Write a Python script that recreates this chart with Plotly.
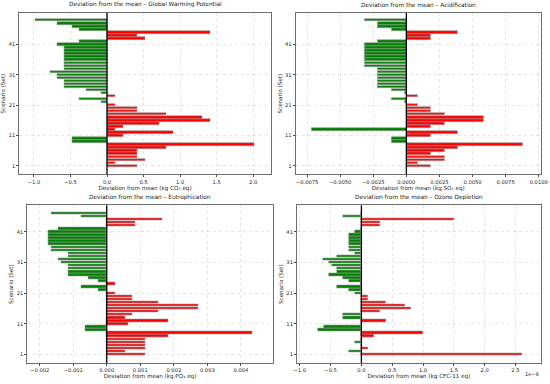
import plotly.graph_objects as go

# ---------------- data ----------------
scen_top = list(range(1, 50))   # GWP & Acidification (49 scenarios)
scen_bot = list(range(1, 48))   # Eutrophication & Ozone (47 scenarios)

gwp = [0.41, 0.12, 0.52, 0.41, 0.41, 0.41, 0.81, 2.01, -0.48, -0.48,
       0.22, 0.91, 0.12, 0.22, 0.71, 1.41, 1.31, 0.81, 0.41, 0.41,
       0.12, -0.08, -0.38, 0.12, -0.08, -0.29, -0.58, -0.58, -0.58, -0.68,
       -0.68, -0.78, -0.58, -0.58, -0.58, -0.58, -0.58, -0.58, -0.58, -0.58,
       -0.68, -0.38, 0.52, 0.41, 1.41, -0.38, -0.48, -0.68, -0.98]

acid = [0.00186, 0.00086, 0.00286, 0.00286, 0.00186, 0.00286, 0.00386, 0.00880, -0.00114, -0.00114,
        0.00186, 0.00386, -0.00714, 0.00186, 0.00286, 0.00586, 0.00586, 0.00286, 0.00186, 0.00186,
        0.00086, -0.00014, -0.00114, 0.00086, -0.00014, -0.00114, -0.00214, -0.00214, -0.00214, -0.00214,
        -0.00214, -0.00214, -0.00214, -0.00314, -0.00314, -0.00314, -0.00314, -0.00314, -0.00314, -0.00314,
        -0.00314, -0.00214, 0.00186, 0.00186, 0.00386, -0.00114, -0.00214, -0.00214, -0.00314]

eutro = [0.00114, 0.00055, 0.00114, 0.00114, 0.00114, 0.00114, 0.00184, 0.00434, -0.00065, -0.00065,
         0.00065, 0.00184, 0.00055, 0.00075, 0.00154, 0.00274, 0.00274, 0.00154, 0.00075, 0.00075,
         0.00025, -0.00025, -0.00075, 0.00025, -0.00025, -0.00055, -0.00115, -0.00115, -0.00115, -0.00115,
         -0.00135, -0.00145, -0.00115, -0.00115, -0.00165, -0.00165, -0.00175, -0.00175, -0.00175, -0.00175,
         -0.00175, -0.00145, 0.00085, 0.00085, 0.00165, -0.00075, -0.00165]

# ozone values in units of 1e-9 kg CFC-11 eq
ozone = [2.6, -0.2, 0.1, 0.0, -0.1, 0.0, 0.2, 1.0, -0.7, -0.6,
         0.0, 0.4, -0.3, -0.3, 0.3, 0.8, 0.7, 0.4, 0.1, 0.1,
         -0.1, -0.2, -0.4, 0.0, -0.2, -0.3, -0.53, -0.4, -0.4, -0.47,
         -0.53, -0.62, -0.4, -0.1, -0.2, -0.2, -0.2, -0.2, -0.2, -0.2,
         -0.1, 0.0, 0.3, 0.3, 1.5, -0.3, 0.0]

titles = ["Deviation from the mean – Global Warming Potential",
          "Deviation from the mean – Acidification",
          "Deviation from the mean – Eutrophication",
          "Deviation from the mean – Ozone Depletion"]
xlabels = ["Deviation from mean (kg CO₂ eq)",
           "Deviation from mean (kg SO₂ eq)",
           "Deviation from mean (kg PO₄ eq)",
           "Deviation from mean (kg CFC-11 eq)"]
ytick_vals = [1, 11, 21, 31, 41]

# --------------- layout geometry ---------------
W, H = 550, 384
panels = [
    dict(x=(19.3, 270.7), y=(13.0, 174.3), xr=[-1.2, 2.24], yr=[-1.8, 51.4],
         xt=[-1.0, -0.5, 0.0, 0.5, 1.0, 1.5, 2.0], fmt=".1f"),
    dict(x=(295.7, 540.7), y=(13.0, 174.3), xr=[-0.00836, 0.01015], yr=[-1.8, 51.4],
         xt=[-0.0075, -0.005, -0.0025, 0.0, 0.0025, 0.005, 0.0075, 0.01], fmt=".4f"),
    dict(x=(27.3, 272.7), y=(205.3, 363.0), xr=[-0.00237, 0.00495], yr=[-1.8, 49.6],
         xt=[-0.002, -0.001, 0.0, 0.001, 0.002, 0.003, 0.004], fmt=".3f"),
    dict(x=(297.0, 540.7), y=(205.3, 363.0), xr=[-1.045, 2.91], yr=[-1.8, 49.6],
         xt=[-1.0, -0.5, 0.0, 0.5, 1.0, 1.5, 2.0, 2.5], fmt=".1f"),
]
series = [(scen_top, gwp), (scen_top, acid), (scen_bot, eutro), (scen_bot, ozone)]

FONT = "DejaVu Sans"
TXT = "#222222"
fig = go.Figure()
for i, (p, (ys, vals)) in enumerate(zip(panels, series)):
    n = i + 1
    xa = "x" if n == 1 else f"x{n}"
    ya = "y" if n == 1 else f"y{n}"
    colors = ["red" if v > 0 else "green" for v in vals]
    fig.add_trace(go.Bar(
        x=vals, y=ys, orientation="h", width=0.8,
        marker=dict(color=colors, line=dict(color="#9a9a9a", width=0.6)),
        xaxis=xa, yaxis=ya, showlegend=False, hoverinfo="x+y"))
    xd = [p["x"][0] / W, p["x"][1] / W]
    yd = [1 - p["y"][1] / H, 1 - p["y"][0] / H]
    axkey = "xaxis" if n == 1 else f"xaxis{n}"
    aykey = "yaxis" if n == 1 else f"yaxis{n}"
    fmt = p["fmt"]
    fig.layout[axkey] = dict(
        domain=xd, anchor=ya, range=p["xr"], tickvals=p["xt"], automargin=False,
        ticktext=[format(t, fmt).replace("-", "−") for t in p["xt"]],
        showgrid=True, gridcolor="rgba(0,0,0,0.10)", griddash="dot", gridwidth=0.6,
        zeroline=False, showline=True, linecolor="#6e6e6e", linewidth=1, mirror=True,
        ticks="outside", ticklen=2, tickwidth=0.6, tickcolor="#444",
        tickfont=dict(family=FONT, size=5.2, color=TXT),
        title=dict(text=xlabels[i], font=dict(family=FONT, size=5.6, color=TXT), standoff=1),
    )
    fig.layout[aykey] = dict(
        domain=yd, anchor=xa, range=p["yr"], tickvals=ytick_vals, automargin=False,
        showgrid=True, gridcolor="rgba(0,0,0,0.10)", griddash="dot", gridwidth=0.6,
        zeroline=False, showline=True, linecolor="#6e6e6e", linewidth=1, mirror=True,
        ticks="outside", ticklen=2, tickwidth=0.6, tickcolor="#444",
        tickfont=dict(family=FONT, size=5.2, color=TXT),
        title=dict(text="Scenario (Set)", font=dict(family=FONT, size=5.6, color=TXT), standoff=2),
    )
    # zero reference line
    fig.add_shape(type="line", xref=xa, yref=f"{ya} domain", x0=0, x1=0, y0=0, y1=1,
                  line=dict(color="black", width=1.3), layer="above")
    # panel title
    fig.add_annotation(text=titles[i], xref="paper", yref="paper",
                       x=(xd[0] + xd[1]) / 2, y=yd[1] + 2.5 / H, xanchor="center", yanchor="bottom",
                       showarrow=False, font=dict(family=FONT, size=5.8, color=TXT))

# ozone scale multiplier
fig.add_annotation(text="1e−9", xref="paper", yref="paper", x=540.7 / W, y=1 - 369 / H,
                   xanchor="right", yanchor="top", showarrow=False,
                   font=dict(family=FONT, size=5.0, color=TXT))

fig.update_layout(template="none", width=W, height=H, margin=dict(l=0, r=0, t=0, b=0),
                  paper_bgcolor="white", plot_bgcolor="white", bargap=0)
fig.write_html("out.html", config={"displayModeBar": False},
               post_script="document.body.style.margin='0';document.body.style.padding='0';")
